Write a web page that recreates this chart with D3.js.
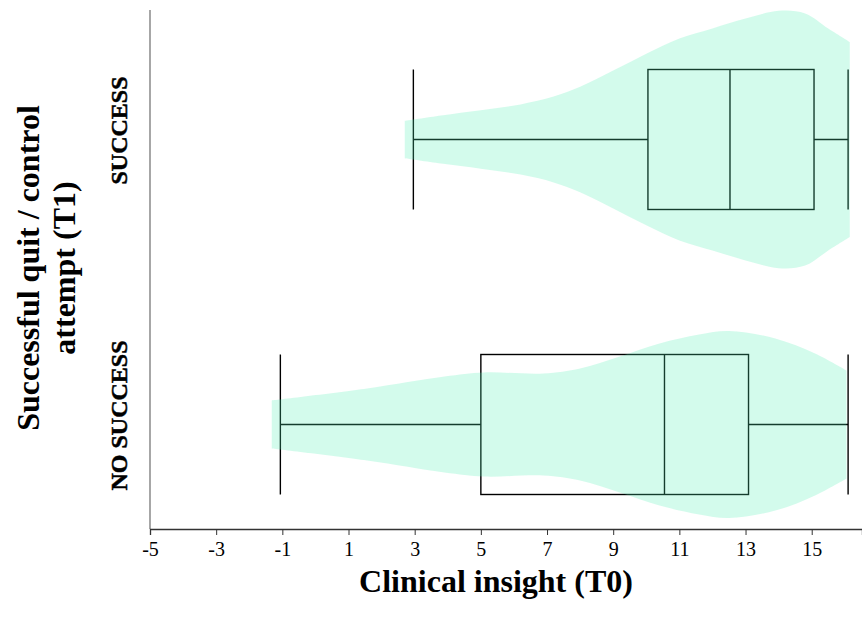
<!DOCTYPE html>
<html lang="en">
<head>
    <meta charset="UTF-8">
    <script src="https://d3js.org/d3.v7.min.js" charset="utf-8"></script>
    <title>Clinical insight violin</title>
    <style>
        body { margin: 0; background: #fff; }
        text { font-family: "Liberation Serif", "Times New Roman", serif; fill: #000; }
        .lbl { font-weight: 700; }
    </style>
</head>
<body>
    <div class="fig"></div>
    <script>
        const svgWidth = 862;
        const svgHeight = 626;

        // groups, top to bottom
        const categories = ["SUCCESS", "NO SUCCESS"];

        // box plot stats per group: min, q1, median, q3, max
        const boxMin = [2.96, -1.06];
        const boxQ1 = [10.05, 5.0];
        const boxMedian = [12.53, 10.55];
        const boxQ3 = [15.07, 13.09];
        const boxMax = [16.1, 16.1];

        // violin outlines (value, relative density)
        const violinSuccessX = [2.7, 3.8, 5.0, 6.2, 7.2, 8.0, 9.0, 10.0, 11.0, 12.0, 13.0, 14.0, 14.8, 15.5, 16.15];
        const violinSuccessD = [0.144, 0.185, 0.225, 0.27, 0.33, 0.405, 0.53, 0.66, 0.777, 0.854, 0.93, 0.99, 0.97, 0.854, 0.75];
        const violinNoSuccessX = [-1.32, 1.56, 3.9, 5.1, 6.9, 8.0, 9.2, 10.4, 11.6, 12.5, 13.9, 15.1, 16.05];
        const violinNoSuccessD = [0.185, 0.277, 0.369, 0.40, 0.392, 0.431, 0.523, 0.623, 0.692, 0.719, 0.662, 0.546, 0.415];

        const xTicks = [-5, -3, -1, 1, 3, 5, 7, 9, 11, 13, 15];

        const margin = { top: 10, left: 150, bottom: 97 };

        const svg = d3.select(".fig").append("svg")
            .attr("width", svgWidth)
            .attr("height", svgHeight);

        const x = d3.scaleLinear()
            .domain([-5, 16.52])
            .range([margin.left, svgWidth]);

        const y = d3.scalePoint()
            .domain(categories)
            .range([139.5, 424.5]);

        // half width of violin in px
        const w = d3.scaleLinear().domain([0, 1]).range([0, 130]);
        const boxHalf = 70;

        const violins = [
            violinSuccessX.map((v, i) => ({ v: v, d: violinSuccessD[i] })),
            violinNoSuccessX.map((v, i) => ({ v: v, d: violinNoSuccessD[i] }))
        ];

        const plotBottom = svgHeight - margin.bottom;

        // boxes first, violins are laid over them
        categories.forEach((cat, i) => {
            const cy = y(cat);
            const g = svg.append("g").attr("stroke", "#000").attr("stroke-width", 1.4).attr("fill", "none");
            g.append("line")
                .attr("x1", x(boxMin[i])).attr("x2", x(boxQ1[i]))
                .attr("y1", cy).attr("y2", cy);
            g.append("line")
                .attr("x1", x(boxQ3[i])).attr("x2", x(boxMax[i]))
                .attr("y1", cy).attr("y2", cy);
            [boxMin[i], boxMax[i], boxMedian[i]].forEach(v => {
                g.append("line")
                    .attr("x1", x(v)).attr("x2", x(v))
                    .attr("y1", cy - boxHalf).attr("y2", cy + boxHalf);
            });
            g.append("rect")
                .attr("x", x(boxQ1[i]))
                .attr("y", cy - boxHalf)
                .attr("width", x(boxQ3[i]) - x(boxQ1[i]))
                .attr("height", boxHalf * 2);
        });

        categories.forEach((cat, i) => {
            const cy = y(cat);
            const area = d3.area()
                .x(d => x(d.v))
                .y0(d => cy - w(d.d))
                .y1(d => cy + w(d.d))
                .curve(d3.curveCatmullRom.alpha(0.5));
            svg.append("path")
                .datum(violins[i])
                .attr("d", area)
                .attr("fill", "rgb(80,240,180)")
                .attr("fill-opacity", 0.25);
        });

        // axes
        svg.append("line")
            .attr("x1", margin.left).attr("x2", margin.left)
            .attr("y1", margin.top).attr("y2", plotBottom)
            .attr("stroke", "#777").attr("stroke-width", 1.3);

        const xAxis = svg.append("g")
            .attr("transform", `translate(0,${plotBottom})`)
            .call(d3.axisBottom(x).tickValues(xTicks).tickSizeOuter(0).tickSize(6).tickFormat(d3.format("d")));
        xAxis.select(".domain").attr("stroke", "#333").attr("stroke-width", 1.3);
        xAxis.selectAll(".tick line").attr("stroke", "#333");
        xAxis.selectAll(".tick text")
            .attr("y", 13)
            .style("font-family", "'Liberation Serif', serif")
            .style("font-size", "20px")
            .attr("fill", "#000");
        xAxis.selectAll(".tick text").text(d => d < 0 ? "-" + Math.abs(d) : d);

        // category labels
        categories.forEach(cat => {
            svg.append("text")
                .attr("class", "lbl")
                .attr("transform", `translate(127,${y(cat) - 9}) rotate(-90)`)
                .attr("text-anchor", "middle")
                .attr("font-weight", "bold")
                .attr("stroke", "#000")
                .attr("stroke-width", 0.5)
                .style("font-size", "24px")
                .text(cat);
        });

        // axis titles
        svg.append("text")
            .attr("class", "lbl")
            .attr("x", 496)
            .attr("y", 592)
            .attr("text-anchor", "middle")
            .style("font-size", "32px")
            .text("Clinical insight (T0)");

        const yTitle = svg.append("text")
            .attr("class", "lbl")
            .attr("transform", "translate(0,268) rotate(-90)")
            .attr("text-anchor", "middle")
            .style("font-size", "32px");
        yTitle.append("tspan").attr("x", 0).attr("y", 39).text("Successful quit / control");
        yTitle.append("tspan").attr("x", 0).attr("y", 75).text("attempt (T1)");
    </script>
</body>
</html>
